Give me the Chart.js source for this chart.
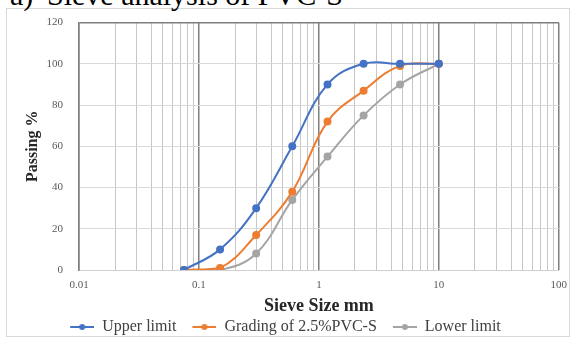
<!DOCTYPE html>
<html>
<head>
<meta charset="utf-8">
<script src="https://cdn.jsdelivr.net/npm/chart.js@4.4.0/dist/chart.umd.min.js"></script>
<style>
    body { margin: 0; background: #fff; }
    #wrap { position: relative; width: 576px; height: 342px; overflow: hidden; }
    #frame { position: absolute; left: 6px; top: 8px; width: 564px; height: 329px; border: 1px solid #d9d9d9; box-sizing: border-box; }
    .caption { position: absolute; top: -20px; font-family: "Liberation Serif", serif; font-size: 30px; line-height: 30px; color: #000; white-space: nowrap; }
    canvas { position: absolute; left: 0; top: 0; }
</style>
</head>
<body>
<div id="wrap">
    <div id="frame"></div>
    <div class="caption" style="left:10px">a)</div>
    <div class="caption" style="left:47px">Sieve analysis of PVC-S</div>
    <canvas id="sieve-canvas" width="576" height="342"></canvas>
</div>
<script>
// sieve openings (mm) and percent passing
const sieveSizes = [0.075, 0.15, 0.3, 0.6, 1.18, 2.36, 4.75, 10];
const upperLimit = [0, 10, 30, 60, 90, 100, 100, 100];
const grading = [0, 1, 17, 38, 72, 87, 99, 100];
const lowerLimit = [0, 0, 8, 34, 55, 75, 90, 100];

const seriesNames = ['Upper limit', 'Grading of 2.5%PVC-S', 'Lower limit'];
const seriesColors = ['#4472c4', '#ed7d31', '#a5a5a5'];

const xTickLabels = ['0.01', '0.1', '1', '10', '100'];
const yTickLabels = [0, 20, 40, 60, 80, 100, 120];

const serif = '"Liberation Serif", "Times New Roman", serif';

// every 1..9 multiple inside each decade, for the log grid
function logGridValues() {
    var values = [];
    for (var d = 0; d < xTickLabels.length; d++) {
        var base = parseFloat(xTickLabels[d]);
        var steps = d < xTickLabels.length - 1 ? 9 : 1;
        for (var m = 1; m <= steps; m++) {
            values.push(parseFloat((m * base).toPrecision(3)));
        }
    }
    return values;
}

function decadeLabel(v) {
    return xTickLabels.find(function (t) { return Math.abs(parseFloat(t) - v) < 1e-9; });
}

// line-with-dot swatch for the legend; the blank strip on the left spaces the items
function legendSwatch(color) {
    var c = document.createElement('canvas');
    c.width = 36;
    c.height = 8;
    var g = c.getContext('2d');
    g.strokeStyle = color;
    g.lineWidth = 2;
    g.beginPath();
    g.moveTo(12, 4);
    g.lineTo(36, 4);
    g.stroke();
    g.fillStyle = color;
    g.beginPath();
    g.arc(24, 4, 3, 0, Math.PI * 2);
    g.fill();
    return c;
}

function makeSeries(name, values, color) {
    return {
        label: name,
        data: sieveSizes.map(function (s, i) { return { x: s, y: values[i] }; }),
        borderColor: color,
        backgroundColor: color,
        borderWidth: 2,
        pointRadius: 3,
        pointHoverRadius: 3,
        pointBackgroundColor: color,
        pointBorderColor: color,
        tension: 0.4
    };
}

const ctx = document.getElementById('sieve-canvas').getContext('2d');
new Chart(ctx, {
    type: 'line',
    data: {
        datasets: [
            makeSeries(seriesNames[0], upperLimit, seriesColors[0]),
            makeSeries(seriesNames[1], grading, seriesColors[1]),
            makeSeries(seriesNames[2], lowerLimit, seriesColors[2])
        ]
    },
    options: {
        responsive: false,
        animation: false,
        layout: { padding: { top: 21, right: 17, left: 0, bottom: -3 } },
        plugins: {
            tooltip: { enabled: false },
            legend: {
                position: 'bottom',
                labels: {
                    usePointStyle: true,
                    pointStyleWidth: 36,
                    boxHeight: 8,
                    padding: 4,
                    color: '#404040',
                    font: { family: serif, size: 16 },
                    generateLabels: function (chart) {
                        return chart.data.datasets.map(function (ds, i) {
                            return {
                                text: ds.label,
                                pointStyle: legendSwatch(ds.borderColor),
                                fillStyle: ds.borderColor,
                                strokeStyle: ds.borderColor,
                                lineWidth: 0,
                                fontColor: '#404040',
                                datasetIndex: i
                            };
                        });
                    }
                }
            }
        },
        scales: {
            x: {
                type: 'logarithmic',
                min: 0.01,
                max: 100,
                afterBuildTicks: function (scale) {
                    scale.ticks = logGridValues().map(function (v) {
                        return { value: v, major: !!decadeLabel(v) };
                    });
                },
                afterFit: function (scale) { scale.height = 45; },
                ticks: {
                    autoSkip: false,
                    maxRotation: 0,
                    padding: 9,
                    color: '#595959',
                    font: { family: serif, size: 11 },
                    callback: function (value) {
                        return decadeLabel(value) || '';
                    }
                },
                grid: {
                    drawTicks: false,
                    color: function (c) {
                        return c.tick && decadeLabel(c.tick.value) ? '#7f7f7f' : '#c6c6c6';
                    },
                    lineWidth: function (c) {
                        return c.tick && decadeLabel(c.tick.value) ? 1.5 : 1;
                    }
                },
                border: { color: '#d0d0d0' },
                title: {
                    display: true,
                    text: 'Sieve Size mm',
                    color: '#262626',
                    font: { family: serif, size: 18, weight: 'bold' },
                    padding: { top: 0, bottom: -2 }
                }
            },
            y: {
                min: 0,
                max: 120,
                afterBuildTicks: function (scale) {
                    scale.ticks = yTickLabels.map(function (v) { return { value: v }; });
                },
                afterFit: function (scale) { scale.width = 79; },
                ticks: {
                    padding: 16,
                    color: '#595959',
                    font: { family: serif, size: 11 }
                },
                grid: {
                    drawTicks: false,
                    color: function (c) {
                        return c.tick && c.tick.value === 120 ? '#7f7f7f' : '#d9d9d9';
                    },
                    lineWidth: function (c) {
                        return c.tick && c.tick.value === 120 ? 1.5 : 1;
                    }
                },
                border: { color: '#7f7f7f', width: 1.5 },
                title: {
                    display: true,
                    text: 'Passing %',
                    color: '#262626',
                    font: { family: serif, size: 16, weight: 'bold' },
                    padding: { top: 23, bottom: 0 }
                }
            }
        }
    }
});
</script>
</body>
</html>
